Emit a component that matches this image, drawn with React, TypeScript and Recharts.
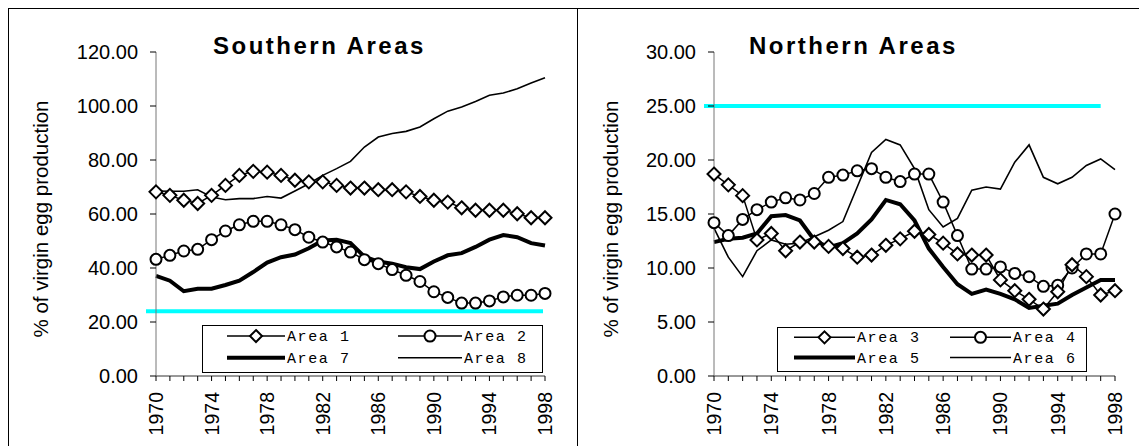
import React from "react";
import { Legend, Line, LineChart, ReferenceLine, XAxis, YAxis } from "recharts";

const years = [
  1970, 1971, 1972, 1973, 1974, 1975, 1976, 1977, 1978, 1979, 1980, 1981, 1982, 1983, 1984,
  1985, 1986, 1987, 1988, 1989, 1990, 1991, 1992, 1993, 1994, 1995, 1996, 1997, 1998,
];

// Southern areas
const area1 = [
  68.2, 66.9, 65.1, 63.9, 66.9, 70.6, 74.3, 75.8, 75.5, 74.3, 72.5, 71.9, 71.9, 70.6, 69.6,
  69.6, 69.0, 69.0, 68.2, 66.5, 65.1, 64.4, 62.3, 61.4, 61.4, 61.4, 60.1, 58.6, 58.6,
];
const area2 = [
  43.2, 44.7, 46.3, 46.9, 50.5, 53.7, 56.0, 57.3, 57.3, 56.0, 54.2, 51.4, 49.6, 47.8, 45.9,
  43.1, 41.6, 39.4, 37.3, 35.0, 31.2, 29.1, 27.0, 27.0, 27.8, 29.3, 29.9, 29.9, 30.6,
];
const area7 = [
  37.1, 35.3, 31.4, 32.3, 32.3, 33.7, 35.3, 38.5, 42.0, 44.0, 45.0, 47.3, 50.2, 50.5, 49.2,
  44.2, 42.4, 41.6, 40.3, 39.6, 42.4, 44.7, 45.5, 47.8, 50.5, 52.2, 51.4, 49.2, 48.3,
];
const area8 = [
  68.5, 68.4, 68.4, 69.0, 66.3, 65.3, 65.7, 65.7, 66.5, 65.9, 68.5, 71.2, 74.3, 76.8, 79.5,
  84.8, 88.5, 89.8, 90.6, 92.2, 95.3, 98.1, 99.6, 101.7, 104.0, 104.8, 106.4, 108.5, 110.5,
];

// Northern areas
const area3 = [
  18.7, 17.7, 16.7, 12.6, 13.2, 11.6, 12.4, 12.4, 12.0, 11.8, 11.0, 11.2, 12.1, 12.7, 13.4,
  13.1, 12.3, 11.3, 11.2, 11.2, 8.9, 7.9, 7.1, 6.2, 7.8, 10.3, 9.2, 7.5, 7.9,
];
const area4 = [
  14.2, 13.0, 14.5, 15.4, 16.1, 16.5, 16.3, 16.9, 18.4, 18.6, 19.0, 19.2, 18.4, 18.0, 18.7,
  18.7, 16.1, 13.0, 9.9, 9.9, 10.1, 9.5, 9.2, 8.3, 8.4, 10.0, 11.3, 11.3, 15.0,
];
const area5 = [
  12.4, 12.7, 12.8, 13.2, 14.8, 14.9, 14.4, 12.6, 11.9, 12.3, 13.2, 14.5, 16.3, 15.9, 14.4,
  11.8, 10.1, 8.5, 7.6, 8.0, 7.6, 7.1, 6.3, 6.5, 6.7, 7.5, 8.2, 8.9, 8.9,
];
const area6 = [
  13.7, 11.0, 9.2, 11.6, 12.6, 12.2, 12.3, 12.9, 13.5, 14.3, 17.5, 20.7, 21.9, 21.4, 19.2,
  15.4, 13.8, 14.6, 17.2, 17.5, 17.3, 19.8, 21.4, 18.4, 17.8, 18.4, 19.5, 20.1, 19.1,
];

const southTicks = [0, 20, 40, 60, 80, 100, 120];
const northTicks = [0, 5, 10, 15, 20, 25, 30];
const southTarget = 24;
const northTarget = 25;

const southData = years.map((year, i) => ({ year, a1: area1[i], a2: area2[i], a7: area7[i], a8: area8[i] }));
const northData = years.map((year, i) => ({ year, a3: area3[i], a4: area4[i], a5: area5[i], a6: area6[i] }));

const SANS = "'Liberation Sans', Arial, sans-serif";
const MONO = "'Liberation Mono', 'Courier New', monospace";

function diamondPath(cx: number, cy: number, s: number) {
  return `M${cx},${cy - s}L${cx + s},${cy}L${cx},${cy + s}L${cx - s},${cy}Z`;
}

function Diamond(props: any) {
  const { cx, cy, index } = props;
  if (cx == null || cy == null) return <g key={`dm-${index}`} />;
  return <path key={`dm-${index}`} d={diamondPath(cx, cy, 6.5)} fill="#fff" stroke="#000" strokeWidth={2} />;
}

function YearTick(props: any) {
  const { x, y, payload } = props;
  if ((payload.value - 1970) % 4 !== 0) return <g />;
  const ax = x + 7;
  const ay = y + 9;
  return (
    <text x={ax} y={ay} transform={`rotate(-90 ${ax} ${ay})`} textAnchor="end" fontSize={19.5} fontFamily={SANS} fill="#000">
      {payload.value}
    </text>
  );
}

function AxisTitle() {
  return (
    <text x={48} y={219} transform="rotate(-90 48 219)" textAnchor="middle" fontSize={20.5} fontFamily={SANS} fill="#000">
      % of virgin egg production
    </text>
  );
}

function makeTarget(trimRight: number) {
  return function TargetLine(props: any) {
    const { x1, y1, x2, y2 } = props;
    return <line x1={x1 - 10} y1={y1} x2={x2 - trimRight} y2={y2} stroke="#00ffff" strokeWidth={4} />;
  };
}
const southTargetShape = makeTarget(2);
const northTargetShape = makeTarget(0);

type Entry = { name: string; kind: "diamond" | "circle" | "thick" | "thin" };

function LegendBox({ entries, width, height, col1, col2 }: { entries: Entry[]; width: number; height: number; col1: number[]; col2: number[] }) {
  const rows = [height * 0.23, height * 0.68];
  return (
    <svg width={width} height={height} style={{ display: "block" }}>
      <rect x={0.5} y={0.5} width={width - 1} height={height - 1} fill="#fff" stroke="#000" strokeWidth={1} />
      {entries.map((e, i) => {
        const [x0, x1] = i % 2 === 0 ? col1 : col2;
        const y = rows[Math.floor(i / 2)];
        const mid = (x0 + x1) / 2;
        return (
          <g key={e.name}>
            <line x1={x0} y1={y} x2={x1} y2={y} stroke="#000" strokeWidth={e.kind === "thick" ? 4 : 1.5} />
            {e.kind === "diamond" && <path d={diamondPath(mid, y, 6)} fill="#fff" stroke="#000" strokeWidth={2} />}
            {e.kind === "circle" && <circle cx={mid} cy={y} r={5.5} fill="#fff" stroke="#000" strokeWidth={2} />}
            <text x={x1 + 2} y={y + 5} fontSize={15} fontFamily={MONO} letterSpacing={1.6} fill="#000">
              {e.name}
            </text>
          </g>
        );
      })}
    </svg>
  );
}

const southEntries: Entry[] = [
  { name: "Area 1", kind: "diamond" },
  { name: "Area 2", kind: "circle" },
  { name: "Area 7", kind: "thick" },
  { name: "Area 8", kind: "thin" },
];
const northEntries: Entry[] = [
  { name: "Area 3", kind: "diamond" },
  { name: "Area 4", kind: "circle" },
  { name: "Area 5", kind: "thick" },
  { name: "Area 6", kind: "thin" },
];

const titleStyle: React.CSSProperties = {
  position: "absolute",
  top: 34,
  fontFamily: SANS,
  fontWeight: "bold",
  fontSize: 24,
  lineHeight: "24px",
  letterSpacing: 2.5,
  whiteSpace: "nowrap",
};

export default function App() {
  return (
    <div style={{ position: "absolute", left: 0, top: 0, width: 1139, height: 446, overflow: "hidden", background: "#fff" }}>
      <div style={{ position: "absolute", left: 8, top: 8, width: 1200, height: 600, border: "1px solid #000" }} />
      <div style={{ position: "absolute", left: 577, top: 8, width: 1, height: 600, background: "#000" }} />

      <div style={{ position: "absolute", left: 0, top: 0 }}>
        <LineChart width={570} height={446} data={southData} margin={{ top: 52, right: 25, bottom: 0, left: 0 }}>
          <XAxis
            dataKey="year"
            interval={0}
            height={70}
            padding={{ left: 0, right: 0 }}
            tick={<YearTick />}
            tickSize={5}
            tickLine={{ stroke: "#000" }}
            axisLine={{ stroke: "#333" }}
          />
          <YAxis
            width={156}
            domain={[0, 120]}
            ticks={southTicks}
            tickFormatter={(v: number) => v.toFixed(2)}
            tick={{ fontSize: 20, fontFamily: SANS, fill: "#000" }}
            tickSize={6}
            tickMargin={12}
            tickLine={{ stroke: "#000" }}
            axisLine={{ stroke: "#777" }}
            label={<AxisTitle />}
          />
          <ReferenceLine segment={[{ x: 1970, y: southTarget }, { x: 1998, y: southTarget }]} shape={southTargetShape} />
          <Line dataKey="a8" stroke="#000" strokeWidth={1.6} dot={false} isAnimationActive={false} />
          <Line dataKey="a7" stroke="#000" strokeWidth={4} dot={false} isAnimationActive={false} />
          <Line dataKey="a2" stroke="#000" strokeWidth={1.5} dot={{ r: 5.5, fill: "#fff", stroke: "#000", strokeWidth: 2 }} isAnimationActive={false} />
          <Line dataKey="a1" stroke="#000" strokeWidth={1.5} dot={Diamond} isAnimationActive={false} />
          <Legend
            layout="vertical"
            align="center"
            verticalAlign="middle"
            wrapperStyle={{ left: 202, top: 325, width: 341, height: 48 }}
            content={() => <LegendBox entries={southEntries} width={341} height={48} col1={[25, 83]} col2={[196, 260]} />}
          />
        </LineChart>
        <div style={{ ...titleStyle, left: 213 }}>Southern Areas</div>
      </div>

      <div style={{ position: "absolute", left: 570, top: 0 }}>
        <LineChart width={569} height={446} data={northData} margin={{ top: 52, right: 24, bottom: 0, left: 0 }}>
          <XAxis
            dataKey="year"
            interval={0}
            height={70}
            padding={{ left: 0, right: 0 }}
            tick={<YearTick />}
            tickSize={5}
            tickLine={{ stroke: "#000" }}
            axisLine={{ stroke: "#333" }}
          />
          <YAxis
            width={144}
            domain={[0, 30]}
            ticks={northTicks}
            tickFormatter={(v: number) => v.toFixed(2)}
            tick={{ fontSize: 20, fontFamily: SANS, fill: "#000" }}
            tickSize={6}
            tickMargin={12}
            tickLine={{ stroke: "#000" }}
            axisLine={{ stroke: "#777" }}
            label={<AxisTitle />}
          />
          <ReferenceLine segment={[{ x: 1970, y: northTarget }, { x: 1997, y: northTarget }]} shape={northTargetShape} />
          <Line dataKey="a6" stroke="#000" strokeWidth={1.6} dot={false} isAnimationActive={false} />
          <Line dataKey="a5" stroke="#000" strokeWidth={4} dot={false} isAnimationActive={false} />
          <Line dataKey="a4" stroke="#000" strokeWidth={1.5} dot={{ r: 5.5, fill: "#fff", stroke: "#000", strokeWidth: 2 }} isAnimationActive={false} />
          <Line dataKey="a3" stroke="#000" strokeWidth={1.5} dot={Diamond} isAnimationActive={false} />
          <Legend
            layout="vertical"
            align="center"
            verticalAlign="middle"
            wrapperStyle={{ left: 207, top: 327, width: 310, height: 45 }}
            content={() => <LegendBox entries={northEntries} width={310} height={45} col1={[17, 78]} col2={[173, 234]} />}
          />
        </LineChart>
        <div style={{ ...titleStyle, left: 179 }}>Northern Areas</div>
      </div>
    </div>
  );
}
